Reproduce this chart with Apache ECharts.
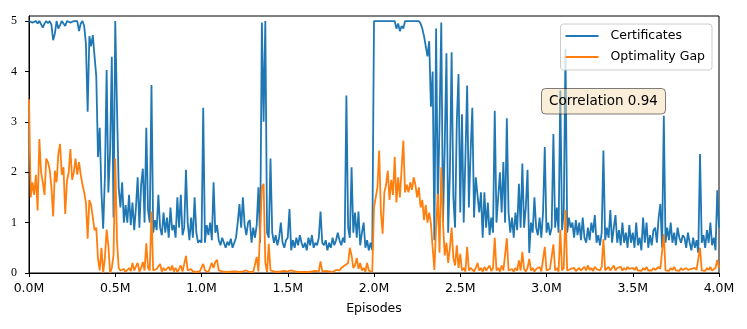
<!DOCTYPE html>
<html><head><meta charset="utf-8">
<script src="https://cdn.jsdelivr.net/npm/echarts@6/dist/echarts.min.js"></script>
<style>html,body{margin:0;padding:0;background:#fff}#c{width:747px;height:329px}</style>
</head><body><div id="c"></div>
<script>
const STEP = 10000; // episodes between samples
const certificates = [
5.0,5.0,4.97,5.0,5.0,4.95,5.0,4.98,4.87,4.95,
5.0,4.96,5.0,4.93,4.62,4.75,5.0,4.85,4.92,5.0,
5.0,4.9,5.0,5.0,4.97,5.0,5.0,5.0,5.0,4.8,
4.95,5.0,4.9,4.55,3.2,4.7,4.5,4.72,4.3,3.9,
2.3,2.88,1.6,0.88,1.9,4.03,1.6,2.4,4.29,1.1,
5.0,3.3,1.7,1.3,1.8,1.0,1.35,1.0,1.55,0.95,
1.4,0.85,1.3,1.9,0.9,1.75,2.07,1.0,2.88,1.25,
1.0,3.73,0.8,1.05,0.85,1.55,0.9,0.75,1.2,0.8,
1.1,0.7,1.3,0.85,0.95,0.7,1.5,0.9,1.55,0.75,
0.9,2.05,1.0,0.65,1.1,0.7,1.5,0.8,0.6,0.65,
0.6,3.28,0.6,0.95,0.75,1.0,0.65,1.8,0.8,0.95,
0.65,0.55,0.7,0.6,0.5,0.62,0.55,0.68,0.5,0.6,
0.7,1.0,1.37,0.9,1.5,0.95,0.75,1.0,1.05,0.6,
0.9,0.7,0.95,1.7,0.6,4.97,3.0,5.0,0.8,0.7,
2.27,0.8,0.6,0.75,0.55,0.7,1.0,0.6,0.5,0.65,
0.7,1.27,0.45,0.65,0.5,0.7,0.55,0.75,0.6,0.5,
0.6,0.45,0.7,0.55,0.75,0.5,0.6,0.55,0.7,1.22,
0.6,0.55,0.65,0.45,0.6,0.5,0.7,0.55,0.65,0.8,
0.65,0.55,0.7,0.6,3.52,0.9,0.7,2.1,0.8,1.2,
0.7,1.22,0.55,0.8,1.0,0.5,0.65,0.45,0.6,0.45,
5.0,5.0,5.0,5.0,5.0,5.0,5.0,5.0,5.0,5.0,
5.0,5.0,5.0,4.85,4.95,4.8,4.9,4.85,5.0,5.0,
5.0,5.0,5.0,5.0,5.0,5.0,5.0,4.95,4.85,4.7,
4.7,4.3,4.6,3.3,4.0,0.65,4.85,1.3,3.0,4.97,
1.0,2.5,4.36,0.8,2.0,4.38,1.5,0.9,3.0,3.95,
1.2,3.15,1.0,2.3,3.72,1.3,2.4,3.28,1.1,1.9,
1.9,1.2,1.6,0.7,1.6,0.9,1.4,0.75,1.1,0.8,
3.22,1.0,1.5,2.0,1.2,2.2,1.0,3.07,1.2,0.8,
1.1,0.7,1.2,0.85,1.77,0.9,2.17,0.9,1.3,2.05,
0.4,1.0,0.8,1.5,0.9,0.75,1.1,0.7,1.2,2.5,
0.8,1.0,0.75,0.9,2.76,0.9,1.3,0.8,3.62,0.85,
1.2,4.45,0.8,1.1,0.9,1.0,0.7,1.05,0.75,1.0,
0.65,1.1,0.7,0.6,0.9,0.65,1.0,0.8,1.15,0.6,
0.75,0.55,0.8,2.43,0.65,0.9,0.7,1.25,0.6,0.9,
1.15,0.6,0.85,0.55,1.0,0.6,0.8,0.5,0.95,0.6,
0.8,0.5,1.0,0.55,0.7,0.45,1.1,0.6,1.0,0.5,
0.75,0.55,0.85,0.9,0.6,1.1,1.37,0.5,3.12,0.6,
0.9,0.65,1.0,0.6,0.8,0.55,0.9,0.7,0.6,0.75,
0.7,0.5,0.8,0.6,0.45,0.7,0.5,0.65,0.4,2.36,
0.6,0.75,0.5,0.85,0.6,1.0,0.55,0.7,0.45,1.64,
0.9
];
const optimalityGap = [
3.45,1.5,1.8,1.55,1.95,1.24,2.66,2.0,1.8,1.55,
2.27,2.2,2.05,1.7,1.12,2.03,1.8,2.36,2.56,1.95,
2.1,1.17,1.82,2.0,2.46,1.85,2.0,2.27,1.95,2.2,
1.95,1.75,1.6,1.4,0.68,1.45,1.35,1.1,0.85,0.9,
0.28,0.05,0.5,0.0,0.3,0.86,0.55,0.0,0.1,0.35,
2.27,0.65,0.1,0.05,0.03,0.08,0.02,0.05,0.1,0.04,
0.2,0.05,0.08,0.2,0.03,0.1,0.22,0.05,0.59,0.1,
0.05,1.22,0.05,0.02,0.08,0.05,0.18,0.03,0.1,0.05,
0.02,0.12,0.05,0.15,0.03,0.1,0.02,0.08,0.15,0.03,
0.05,0.34,0.05,0.02,0.08,0.03,0.06,0.02,0.04,0.03,
0.03,0.18,0.05,0.08,0.02,0.05,0.2,0.1,0.22,0.26,
0.05,0.02,0.03,0.05,0.02,0.04,0.02,0.05,0.03,0.02,
0.03,0.05,0.02,0.04,0.03,0.02,0.05,0.03,0.02,0.04,
0.02,0.05,0.32,0.03,0.0,1.7,1.77,0.2,0.02,0.58,
0.05,0.02,0.03,0.05,0.02,0.0,0.03,0.02,0.04,0.02,
0.03,0.02,0.05,0.02,0.03,0.04,0.02,0.03,0.02,0.05,
0.02,0.03,0.02,0.05,0.03,0.02,0.04,0.02,0.03,0.23,
0.03,0.02,0.04,0.02,0.03,0.05,0.02,0.04,0.06,0.08,
0.05,0.1,0.08,0.15,0.12,0.2,0.5,0.35,0.1,0.15,
0.3,0.08,0.2,0.05,0.1,0.02,0.2,0.05,0.03,0.02,
1.3,1.5,1.7,2.43,1.2,0.78,1.6,1.75,2.03,1.45,
1.85,1.55,2.3,1.4,1.9,1.5,2.07,2.63,1.6,1.75,
1.6,1.8,1.65,1.9,1.75,1.5,1.7,1.3,1.45,1.05,
1.35,1.0,1.2,0.98,0.5,0.06,0.9,1.57,0.4,2.1,
1.0,0.35,0.6,0.2,0.5,0.9,0.3,0.15,0.55,0.1,
0.38,0.05,0.1,0.03,0.52,0.05,0.1,0.08,0.03,0.1,
0.2,0.05,0.1,0.03,0.12,0.05,0.08,0.15,0.04,0.1,
0.7,0.05,0.1,0.03,0.15,0.05,0.08,0.69,0.05,0.03,
0.08,0.03,0.1,0.05,0.25,0.05,0.42,0.08,0.03,0.1,
0.28,0.05,0.1,0.03,0.08,0.05,0.12,0.03,0.06,0.52,
0.05,0.03,0.08,0.05,0.57,0.05,0.1,0.03,0.86,0.05,
0.1,1.25,0.05,0.03,0.08,0.05,0.1,0.04,0.06,0.1,
0.05,0.08,0.12,0.05,0.15,0.06,0.1,0.04,0.12,0.08,
0.1,0.05,0.12,0.67,0.05,0.08,0.12,0.05,0.1,0.15,
0.05,0.1,0.08,0.12,0.05,0.1,0.06,0.12,0.08,0.05,
0.1,0.06,0.12,0.05,0.08,0.04,0.1,0.06,0.12,0.05,
0.08,0.05,0.1,0.06,0.04,0.12,0.08,0.05,0.77,0.05,
0.08,0.04,0.1,0.06,0.12,0.05,0.08,0.04,0.1,0.06,
0.05,0.1,0.06,0.04,0.08,0.05,0.1,0.06,0.04,0.5,
0.05,0.08,0.04,0.1,0.06,0.12,0.05,0.08,0.1,0.26,
0.1
];
const xTicks = [0,500000,1000000,1500000,2000000,2500000,3000000,3500000,4000000];
const yTicks = [0,1,2,3,4,5];
const seriesNames = ['Certificates','Optimality Gap'];
const xName = 'Episodes';
const annotationText = 'Correlation 0.94';

const chart = echarts.init(document.getElementById('c'), null, {renderer:'canvas'});
const toPairs = arr => arr.map((v,i)=>[i*STEP, v]);
const axisCommon = {
  axisLine:{show:true, lineStyle:{color:'#000', width:1}},
  axisTick:{show:true, inside:false, length:4, lineStyle:{color:'#000', width:1}},
  splitLine:{show:false}
};
chart.setOption({
  animation:false,
  backgroundColor:'#fff',
  grid:{left:29, right:28, top:16, bottom:56, show:true, borderColor:'#000', borderWidth:1, backgroundColor:'transparent'},
  xAxis:Object.assign({}, axisCommon, {
    type:'value', min:0, max:4000000, interval:500000,
    name:xName, nameLocation:'middle', nameGap:29,
    nameTextStyle:{fontFamily:'DejaVu Sans', fontSize:12.5, color:'#000'},
    axisTick:Object.assign({}, axisCommon.axisTick, {customValues:xTicks}),
    axisLabel:{customValues:xTicks, margin:9, fontFamily:'DejaVu Sans', fontSize:12.5, color:'#000',
      formatter:v=>(v/1e6).toFixed(1)+'M'}
  }),
  yAxis:Object.assign({}, axisCommon, {
    type:'value', min:0, max:5.1, interval:1,
    axisTick:Object.assign({}, axisCommon.axisTick, {customValues:yTicks}),
    axisLabel:{customValues:yTicks, margin:12, fontFamily:'Liberation Serif', fontSize:12, color:'#000',
      formatter:v=>String(v)}
  }),
  legend:{
    orient:'vertical', right:35, top:24,
    data:seriesNames,
    icon:'rect', itemWidth:33, itemHeight:2, itemGap:7,
    padding:[5,7,6,5],
    backgroundColor:'rgba(255,255,255,0.8)', borderColor:'#cccccc', borderWidth:1, borderRadius:3,
    textStyle:{fontFamily:'DejaVu Sans', fontSize:12.5, color:'#000', lineHeight:14, padding:[0,0,0,7]},
    z:10
  },
  series:[
    {name:seriesNames[0], type:'line', data:toPairs(certificates), showSymbol:false, symbol:'none',
     lineStyle:{color:'#1f77b4', width:1.8}, itemStyle:{color:'#1f77b4'}, z:2},
    {name:seriesNames[1], type:'line', data:toPairs(optimalityGap), showSymbol:false, symbol:'none',
     lineStyle:{color:'#ff7f0e', width:1.8}, itemStyle:{color:'#ff7f0e'}, z:3}
  ],
  graphic:[
    {type:'rect', z:100, shape:{x:541.5, y:88.5, width:124, height:25.5, r:4},
     style:{fill:'rgba(245,222,179,0.5)', stroke:'rgba(0,0,0,0.5)', lineWidth:1}},
    {type:'text', z:101, x:603.5, y:101.5,
     style:{text:annotationText, fontFamily:'DejaVu Sans', fontSize:13.5, fill:'#000', align:'center', verticalAlign:'middle'}}
  ]
});
</script></body></html>
